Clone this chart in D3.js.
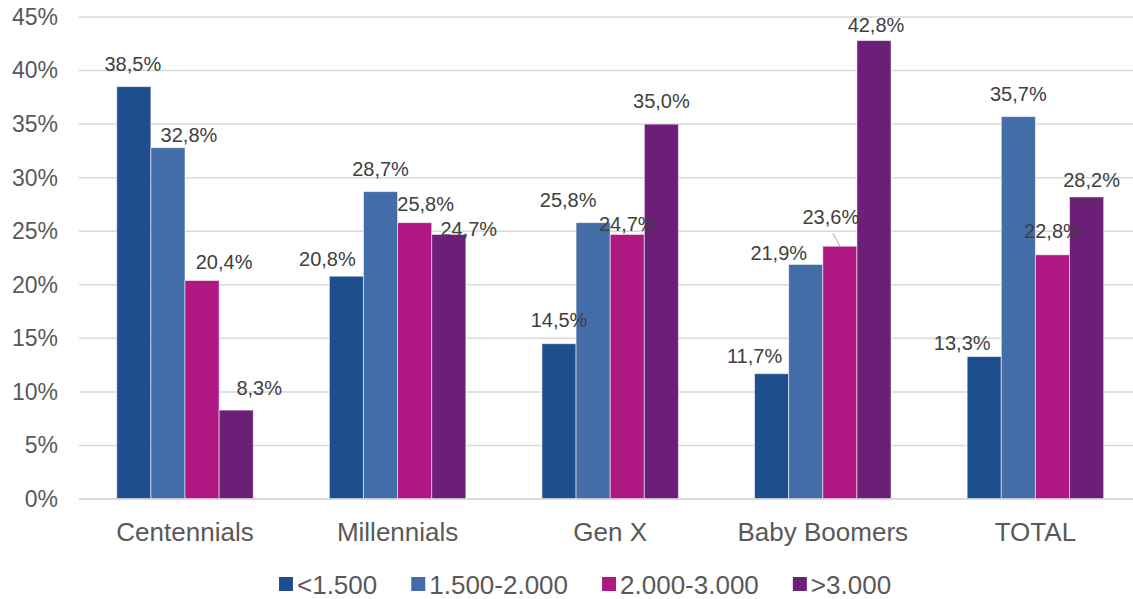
<!DOCTYPE html>
<html>
<head>
<meta charset="utf-8">
<script src="https://cdn.jsdelivr.net/npm/d3@7"></script>
<style>
  html, body { margin: 0; padding: 0; background: #fff; }
  svg { display: block; font-family: "Liberation Sans", Arial, sans-serif; }
</style>
</head>
<body>
<svg id="chart" width="1133" height="599"></svg>
<script>
// ---- data ----
const categories = ["Centennials", "Millennials", "Gen X", "Baby Boomers", "TOTAL"];
const seriesNames = ["<1.500", "1.500-2.000", "2.000-3.000", ">3.000"];
const seriesLT1500   = [38.5, 20.8, 14.5, 11.7, 13.3];
const series1500_2000 = [32.8, 28.7, 25.8, 21.9, 35.7];
const series2000_3000 = [20.4, 25.8, 24.7, 23.6, 22.8];
const seriesGT3000   = [8.3, 24.7, 35.0, 42.8, 28.2];
const yTicks = [0, 5, 10, 15, 20, 25, 30, 35, 40, 45];

// ---- styling / layout ----
const colors = ["#1F4E8F", "#426DA9", "#AF1782", "#6B1F76"];
// manual label offsets (dx from bar centre, dy baseline from bar top), per series x category
const labelDx = [[-1, -19, 0, -17, -22], [21, 0, -25, -27, 0], [22, 11, 0, -9, 0], [23, 20, 0, 2, 5]];
const labelDy = [[-16, -10, -17, -11, -7], [-6, -16, -16, -4, -16], [-11, -12, -3, -22, -17], [-15, 2, -16, -9, -10]];

const allSeries = [seriesLT1500, series1500_2000, series2000_3000, seriesGT3000];
const svg = d3.select("#chart");

const x = d3.scaleBand().domain(categories).range([78.7, 1141.7]).padding(0);
const groupW = 136.5;
const xs = d3.scaleBand().domain(d3.range(seriesNames.length)).range([-groupW / 2, groupW / 2]).padding(0);
const y = d3.scaleLinear().domain([0, 45]).range([499, 17]);

// gridlines + y axis
const yAxis = d3.axisLeft(y).tickValues(yTicks).tickFormat(d => d + "%").tickSize(0).tickPadding(0);
const gAxis = svg.append("g").attr("transform", "translate(58,0)").call(yAxis);
gAxis.select(".domain").remove();
gAxis.selectAll("text").attr("font-size", 23).attr("fill", "#595959")
  .attr("font-family", "'Liberation Sans', Arial, sans-serif");

svg.append("g").selectAll("line").data(yTicks).join("line")
  .attr("x1", 79).attr("x2", 1133)
  .attr("y1", d => y(d)).attr("y2", d => y(d))
  .attr("stroke", "#d9d9d9").attr("stroke-width", 1.5);

// bars
const barData = [];
allSeries.forEach((vals, si) => vals.forEach((v, ci) => barData.push({ si, ci, v })));

const gBars = svg.append("g");
gBars.selectAll("rect").data(barData).join("rect")
  .attr("x", d => x(categories[d.ci]) + x.bandwidth() / 2 + xs(d.si))
  .attr("width", xs.bandwidth())
  .attr("y", d => y(d.v))
  .attr("height", d => y(0) - y(d.v))
  .attr("fill", d => colors[d.si])
  .attr("stroke", "rgba(255,255,255,0.55)")
  .attr("stroke-width", 1);

// re-draw the zero line above bars bottom
svg.append("line").attr("x1", 79).attr("x2", 1133).attr("y1", y(0)).attr("y2", y(0))
  .attr("stroke", "#d9d9d9").attr("stroke-width", 1.5);

// data labels
const fmt = v => v.toFixed(1).replace(".", ",") + "%";
const lx = d => x(categories[d.ci]) + x.bandwidth() / 2 + xs(d.si) + xs.bandwidth() / 2 + labelDx[d.si][d.ci];
const ly = d => y(d.v) + labelDy[d.si][d.ci];

// leader line for the 23,6% label (Baby Boomers, 2.000-3.000)
const leader = barData.filter(d => d.si === 2 && d.ci === 3);
svg.append("g").selectAll("line").data(leader).join("line")
  .attr("x1", d => lx(d) + 2).attr("y1", d => ly(d) + 9)
  .attr("x2", d => x(categories[d.ci]) + x.bandwidth() / 2 + xs(d.si) + xs.bandwidth() / 2)
  .attr("y2", d => y(d.v))
  .attr("stroke", "#a6a6a6").attr("stroke-width", 1);

svg.append("g").selectAll("text").data(barData).join("text")
  .attr("x", lx).attr("y", ly)
  .attr("text-anchor", "middle")
  .attr("font-size", 20).attr("fill", "#404040")
  .text(d => fmt(d.v));

// category labels
svg.append("g").selectAll("text").data(categories).join("text")
  .attr("x", d => x(d) + x.bandwidth() / 2).attr("y", 541)
  .attr("text-anchor", "middle").attr("font-size", 26).attr("fill", "#595959")
  .text(d => d);

// legend
const gLeg = svg.append("g");
let cx = 279;
seriesNames.forEach((name, i) => {
  gLeg.append("rect").attr("x", cx).attr("y", 577).attr("width", 14).attr("height", 14).attr("fill", colors[i]);
  const t = gLeg.append("text").attr("x", cx + 18).attr("y", 594)
    .attr("font-size", 26).attr("fill", "#595959").text(name);
  cx += 18 + t.node().getComputedTextLength() + 34;
});
</script>
</body>
</html>
